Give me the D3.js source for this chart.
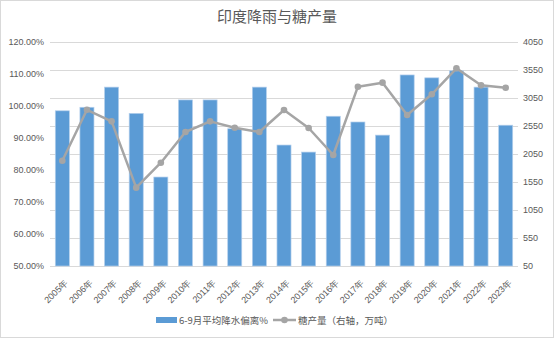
<!DOCTYPE html>
<html><head><meta charset="utf-8">
<script src="https://cdn.jsdelivr.net/npm/d3@7"></script>
<style>
html,body{margin:0;padding:0;background:#fff;}
svg{display:block;font-family:"Noto Sans CJK SC","Noto Sans",sans-serif;}
</style></head>
<body><svg id="c" width="554" height="338"></svg>
<script>
const years = ["2005年","2006年","2007年","2008年","2009年","2010年","2011年","2012年","2013年","2014年","2015年","2016年","2017年","2018年","2019年","2020年","2021年","2022年","2023年"];
const rainDev = [0.985,0.996,1.059,0.977,0.778,1.019,1.019,0.929,1.059,0.878,0.856,0.968,0.950,0.909,1.097,1.088,1.110,1.059,0.940];
const sugar = [1930,2840,2633,1449,1895,2443,2633,2520,2443,2836,2514,2032,3252,3324,2746,3116,3580,3276,3234];
const leftTicks = [0.5,0.6,0.7,0.8,0.9,1.0,1.1,1.2];
const rightTicks = [50,550,1050,1550,2050,2550,3050,3550,4050];
const title = "印度降雨与糖产量";
const legendBar = "6-9月平均降水偏离%";
const legendLine = "糖产量（右轴，万吨）";

const svg = d3.select("#c");
const W = 554, H = 338;
const L = 50, R = 518, T = 42, B = 266;
const txt = "#595959";

svg.append("rect").attr("x",0.5).attr("y",0.5).attr("width",W-1).attr("height",H-1)
  .attr("fill","#fff").attr("stroke","#d9d9d9");

const x = d3.scaleBand().domain(years).range([L,R]).paddingInner(0.43).paddingOuter(0.215);
const yL = d3.scaleLinear().domain([0.5,1.2]).range([B,T]);
const yR = d3.scaleLinear().domain([50,4050]).range([B,T]);

// gridlines (from right axis)
svg.append("g").selectAll("line").data(rightTicks).join("line")
  .attr("x1",L).attr("x2",R).attr("y1",d=>yR(d)).attr("y2",d=>yR(d))
  .attr("stroke","#d9d9d9").attr("stroke-width",1).attr("shape-rendering","crispEdges");

// bars
svg.append("g").selectAll("rect").data(rainDev).join("rect")
  .attr("x",(d,i)=>x(years[i])).attr("width",x.bandwidth())
  .attr("y",d=>yL(d)).attr("height",d=>yL(0.5)-yL(d))
  .attr("fill","#5b9bd5").attr("stroke","#b4cfec").attr("stroke-width",0.7);

// line
const cx = (i)=>x(years[i])+x.bandwidth()/2;
svg.append("path").datum(sugar)
  .attr("d",d3.line().x((d,i)=>cx(i)).y(d=>yR(d)))
  .attr("fill","none").attr("stroke","#a5a5a5").attr("stroke-width",2.5).attr("stroke-linejoin","round");
svg.append("g").selectAll("circle").data(sugar).join("circle")
  .attr("cx",(d,i)=>cx(i)).attr("cy",d=>yR(d)).attr("r",3.3).attr("fill","#a5a5a5");

// left axis
const ax1 = svg.append("g").attr("transform",`translate(${L-6},0)`)
  .call(d3.axisLeft(yL).tickValues(leftTicks).tickFormat(d3.format(".2%")).tickSize(0));
ax1.select(".domain").remove();
ax1.selectAll("text").attr("fill",txt).style("font-size","9px").attr("x",0);

// right axis
const ax2 = svg.append("g").attr("transform",`translate(${R+5},0)`)
  .call(d3.axisRight(yR).tickValues(rightTicks).tickFormat(d3.format("d")).tickSize(0));
ax2.select(".domain").remove();
ax2.selectAll("text").attr("fill",txt).style("font-size","9px").attr("x",0);

// x axis
const ax3 = svg.append("g").attr("transform",`translate(0,${B})`)
  .call(d3.axisBottom(x).tickSize(0));
ax3.select(".domain").remove();
ax3.selectAll("text").attr("fill",txt).style("font-size","9px")
  .attr("text-anchor","end").attr("dy","0.35em").attr("dx","0")
  .attr("transform","translate(4,15) rotate(-45)").attr("y",0).attr("x",0);

// title
svg.append("text").attr("x",277).attr("y",22).attr("text-anchor","middle")
  .attr("fill",txt).style("font-size","15px").text(title);

// legend
const lg = svg.append("g");
lg.append("rect").attr("x",156).attr("y",317).attr("width",21).attr("height",6).attr("fill","#5b9bd5");
lg.append("text").attr("x",179).attr("y",323.5).attr("fill",txt).style("font-size","9.5px").text(legendBar);
lg.append("line").attr("x1",273).attr("x2",296).attr("y1",320).attr("y2",320).attr("stroke","#a5a5a5").attr("stroke-width",2.5);
lg.append("circle").attr("cx",284.5).attr("cy",320).attr("r",3.3).attr("fill","#a5a5a5");
lg.append("text").attr("x",298).attr("y",323.5).attr("fill",txt).style("font-size","9.5px").text(legendLine);
</script></body></html>
